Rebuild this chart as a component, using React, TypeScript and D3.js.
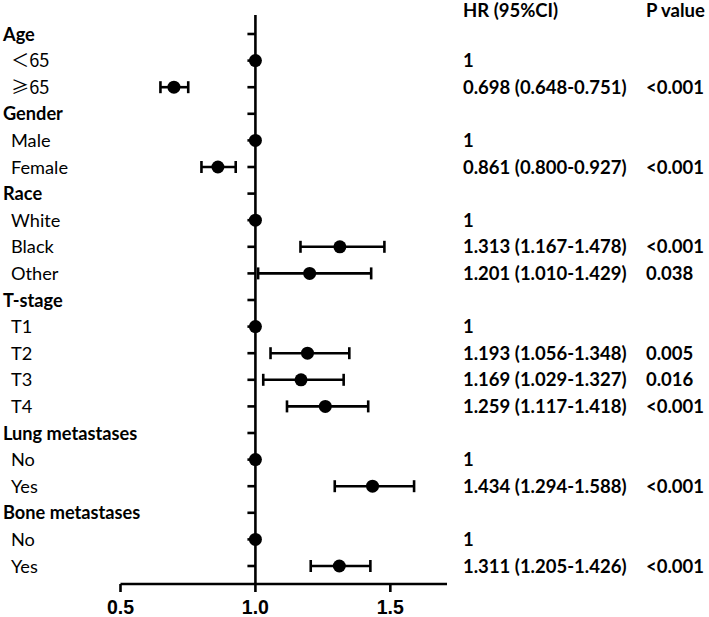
import React from "react";
import * as d3 from "d3";

const labels = ["Age", "＜65", "≥65", "Gender", "Male", "Female", "Race", "White", "Black", "Other", "T-stage", "T1", "T2", "T3", "T4", "Lung metastases", "No", "Yes", "Bone metastases", "No", "Yes"];
const isHeader = [true, false, false, true, false, false, true, false, false, false, true, false, false, false, false, true, false, false, true, false, false];
const hr = [null, 1, 0.698, null, 1, 0.861, null, 1, 1.313, 1.201, null, 1, 1.193, 1.169, 1.259, null, 1, 1.434, null, 1, 1.311];
const lower = [null, null, 0.648, null, null, 0.8, null, null, 1.167, 1.01, null, null, 1.056, 1.029, 1.117, null, null, 1.294, null, null, 1.205];
const upper = [null, null, 0.751, null, null, 0.927, null, null, 1.478, 1.429, null, null, 1.348, 1.327, 1.418, null, null, 1.588, null, null, 1.426];
const pValues = ["", "", "<0.001", "", "", "<0.001", "", "", "<0.001", "0.038", "", "", "0.005", "0.016", "<0.001", "", "", "<0.001", "", "", "<0.001"];
const xTicks = [0.5, 1.0, 1.5];

const W = 709, H = 617;
const FONT = "Lato, 'Open Sans', sans-serif";

export default function App() {
  const x = d3.scaleLinear().domain([0.5, 1.71]).range([120.5, 447]);
  const y = d3.scaleLinear().domain([0, labels.length - 1]).range([34, 566]);
  const axisY = 584;
  const f3 = d3.format(".3f");
  const f1 = d3.format(".1f");
  const lw = 2.6;
  return (
    <div style={{ position: "absolute", left: 0, top: 0 }}>
      <svg width={W} height={H} style={{ display: "block", background: "#fff" }} fontFamily={FONT}>
        {/* vertical reference line */}
        <line x1={x(1)} x2={x(1)} y1={15} y2={axisY} stroke="#000" strokeWidth={lw} />
        {/* row ticks */}
        {labels.map((_, i) => (
          <line key={"t" + i} x1={x(1) - 8} x2={x(1)} y1={y(i)} y2={y(i)} stroke="#000" strokeWidth={lw} />
        ))}
        {/* x axis */}
        <line x1={x(0.5)} x2={x.range()[1]} y1={axisY} y2={axisY} stroke="#000" strokeWidth={lw} />
        {xTicks.map((t) => (
          <g key={"xt" + t}>
            <line x1={x(t)} x2={x(t)} y1={axisY} y2={axisY + 8} stroke="#000" strokeWidth={lw} />
            <text x={x(t)} y={614} textAnchor="middle" fontWeight="bold" fontSize={19.5}
              fontFamily="'Liberation Sans', Arial, sans-serif">{f1(t)}</text>
          </g>
        ))}
        {/* CIs and points */}
        {labels.map((_, i) => {
          const v = hr[i];
          if (v == null) return null;
          const lo = lower[i], hi = upper[i];
          return (
            <g key={"p" + i}>
              {lo != null && hi != null && (
                <g stroke="#000" strokeWidth={lw}>
                  <line x1={x(lo)} x2={x(hi)} y1={y(i)} y2={y(i)} />
                  <line x1={x(lo)} x2={x(lo)} y1={y(i) - 6} y2={y(i) + 6} />
                  <line x1={x(hi)} x2={x(hi)} y1={y(i) - 6} y2={y(i) + 6} />
                </g>
              )}
              <circle cx={x(v)} cy={y(i)} r={6.5} fill="#000" />
            </g>
          );
        })}
        {/* left labels */}
        {labels.map((l, i) => (
          <text key={"l" + i} x={isHeader[i] ? 3 : 11} y={y(i)} dy="0.36em" fontSize={18.2}
            fontWeight={isHeader[i] ? "bold" : "normal"}
            fontFamily={l.startsWith("＜") || l.startsWith("≥") ? "'Noto Sans CJK SC', " + FONT : FONT}>{l}</text>
        ))}
        {/* headers */}
        <text x={463} y={10} dy="0.36em" fontSize={18.5} fontWeight="bold">HR (95%CI)</text>
        <text x={646} y={10} dy="0.36em" fontSize={18.5} fontWeight="bold">P value</text>
        {/* HR text and p */}
        {labels.map((_, i) => {
          const v = hr[i];
          if (v == null) return null;
          const txt = lower[i] == null ? "1" : `${f3(v)} (${f3(lower[i] as number)}-${f3(upper[i] as number)})`;
          return (
            <g key={"h" + i} fontSize={18.5} fontWeight="bold">
              <text x={463} y={y(i)} dy="0.36em">{txt}</text>
              {pValues[i] && <text x={646} y={y(i)} dy="0.36em">{pValues[i]}</text>}
            </g>
          );
        })}
      </svg>
    </div>
  );
}
